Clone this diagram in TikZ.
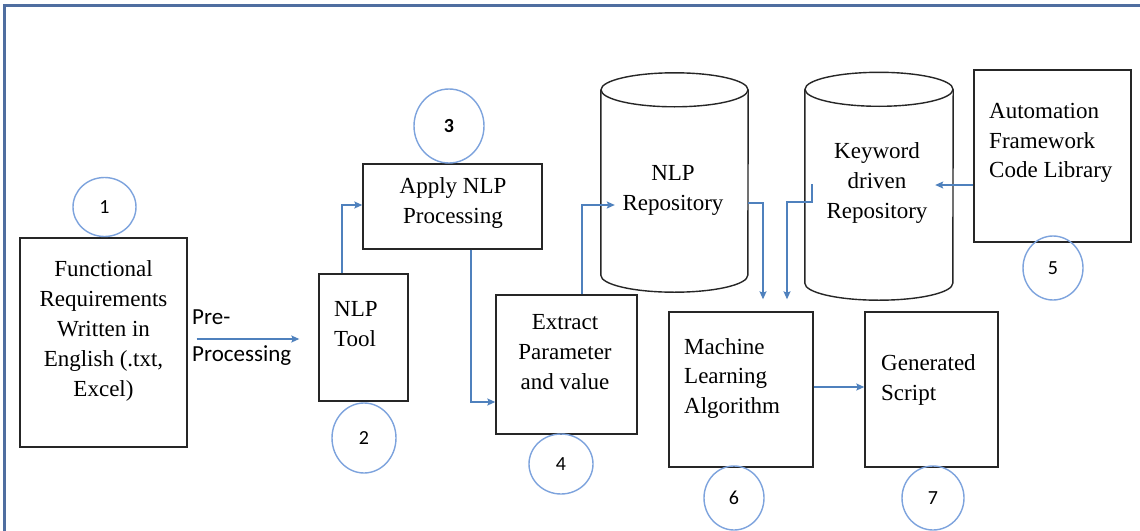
\documentclass[tikz,border=0pt]{standalone}
\usepackage{fontspec}
\setmainfont{Liberation Serif}
\newfontfamily\calfont{Carlito}
\usetikzlibrary{shapes.geometric,arrows.meta,calc}
\definecolor{framec}{RGB}{79,110,160}
\definecolor{arrc}{RGB}{79,129,189}
\definecolor{circc}{RGB}{125,163,221}
\definecolor{boxc}{RGB}{38,38,38}
\begin{document}
\begin{tikzpicture}[x=1pt,y=-1pt,
  box/.style={draw=boxc,line width=1.4pt,inner sep=0pt},
  cylbody/.style={draw=none,inner sep=0pt},
  cyl/.style={draw=boxc,line width=1.4pt},
  txt/.style={inner sep=0pt,anchor=north,align=center,font=\fontsize{23}{30}\selectfont},
  ltxt/.style={inner sep=0pt,anchor=north west,align=left,font=\fontsize{23}{30}\selectfont},
  num/.style={ellipse,draw=circc,line width=1.4pt,inner sep=0pt,font=\calfont\fontsize{20}{24}\selectfont},
  arr/.style={draw=arrc,line width=1.4pt,-{Stealth[length=8pt,width=7pt,inset=1.5pt]}}]
\useasboundingbox (0,0) rectangle (1140,530);
\clip (0,0) rectangle (1140,530);
\fill[white] (0,0) rectangle (1140,530);
\draw[framec,line width=2.2pt] (4.5,5.5) rectangle (1170,560);

% boxes
\node[box,minimum width=167pt,minimum height=209pt] (req) at (103.5,342.5) {};
\node[box,minimum width=89pt,minimum height=127pt] (tool) at (363.5,337.5) {};
\node[box,minimum width=179pt,minimum height=85pt] (apply) at (452.5,206.5) {};
\node[box,minimum width=141pt,minimum height=139pt] (extract) at (566.5,364.5) {};
\node[box,minimum width=157pt,minimum height=172pt] (auto) at (1052.5,156) {};
\node[box,minimum width=144pt,minimum height=155pt] (ml) at (741,389.5) {};
\node[box,minimum width=133pt,minimum height=155pt] (gs) at (931.5,389.5) {};

% cylinders
\node[cylbody,minimum width=147pt,minimum height=185pt] (nlprepo) at (674.5,182.5) {};
\draw[cyl] (nlprepo.north) ellipse [x radius=73.5pt,y radius=17pt];
\draw[cyl] (nlprepo.north west) -- (nlprepo.south west)
  arc[start angle=180,end angle=360,x radius=73.5pt,y radius=17pt] -- (nlprepo.north east);
\node[cylbody,minimum width=148pt,minimum height=193.5pt] (kwrepo) at (879,186.25) {};
\draw[cyl] (kwrepo.north) ellipse [x radius=74pt,y radius=17pt];
\draw[cyl] (kwrepo.north west) -- (kwrepo.south west)
  arc[start angle=180,end angle=360,x radius=74pt,y radius=17pt] -- (kwrepo.north east);

% texts
\node[txt] (reqt) at (103.5,260.5) {Functional\\Requirements\\Written in\\English (.txt,\\Excel)};
\node[ltxt,font=\calfont\fontsize{23}{37}\selectfont] (pre) at (192,310) {Pre-\\Processing};
\node[ltxt] (toolt) at (334,301) {NLP\\Tool};
\node[txt] (applyt) at (453,177.5) {Apply NLP\\Processing};
\node[txt] (extractt) at (565,314) {Extract\\Parameter\\and value};
\node[txt] (nlprepot) at (673,165) {NLP\\Repository};
\node[txt] (kwrepot) at (877,142.3) {Keyword\\driven\\Repository};
\node[ltxt,font=\fontsize{23}{29.5}\selectfont] (autot) at (989,103.5) {Automation\\Framework\\Code Library};
\node[ltxt,font=\fontsize{23}{29.5}\selectfont] (mlt) at (684,338.3) {Machine\\Learning\\Algorithm};
\node[ltxt] (gst) at (881,354.3) {Generated\\Script};

% numbered circles
\node[num,minimum width=63pt,minimum height=59pt] (c1) at (104.5,207) {1};
\node[num,minimum width=64pt,minimum height=70pt] (c2) at (364,438) {2};
\node[num,minimum width=70pt,minimum height=74pt,font=\calfont\bfseries\fontsize{20}{24}\selectfont] (c3) at (449,126) {3};
\node[num,minimum width=64pt,minimum height=60pt] (c4) at (561,464) {4};
\node[num,minimum width=60pt,minimum height=64pt] (c5) at (1053,268) {5};
\node[num,minimum width=60pt,minimum height=64pt] (c6) at (734,498) {6};
\node[num,minimum width=62pt,minimum height=64pt] (c7) at (933,498) {7};

% connectors
\draw[arr] ([xshift=9pt,yshift=3.5pt]req.east) -- ([xshift=-19pt,yshift=-1.5pt]tool.west);
\draw[arr] ([xshift=-21.5pt]tool.north) |- ([yshift=1.5pt]apply.west);
\draw[arr] ([xshift=18.5pt]apply.south) |- ([yshift=-37.5pt]extract.west);
\draw[arr] ([xshift=15.5pt]extract.north) |- ([xshift=14pt,yshift=-22.5pt]nlprepo.west);
\draw[arr] ([yshift=-20.5pt]nlprepo.east) -| ([xshift=22pt,yshift=12pt]ml.north);
\draw[arr] ([xshift=7pt,yshift=2.25pt]kwrepo.west) -- ++(0,18) -| ([xshift=46pt,yshift=12pt]ml.north);
\coordinate (autoout) at ([yshift=-29pt]auto.west);
\draw[arr] (autoout) -- ($(kwrepo.east |- autoout)+(-18,0)$);
\draw[arr] ([yshift=2.5pt]ml.east) -- ([yshift=2.5pt]gs.west);
\end{tikzpicture}
\end{document}
